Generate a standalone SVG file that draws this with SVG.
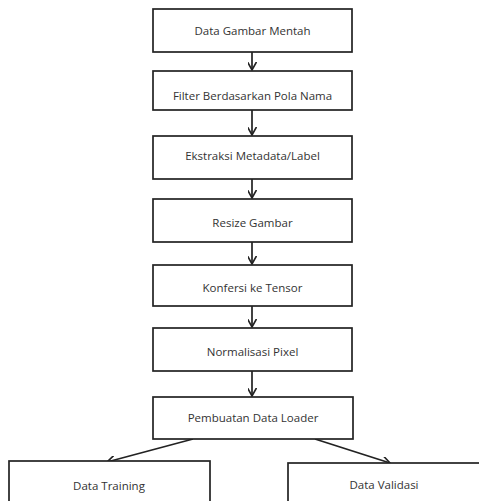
<svg xmlns="http://www.w3.org/2000/svg" width="479" height="501" viewBox="0 0 479 501">
<style>
.box{fill:#ffffff;stroke:#222;stroke-width:1.7}
.t{font-family:"Open Sans","Noto Sans",sans-serif;font-size:11.5px;fill:#333;text-anchor:middle;dominant-baseline:central}
.c{stroke:#222;stroke-width:1.7;fill:none;marker-end:url(#arr)}
</style>
<defs>
<marker id="arr" viewBox="0 0 10 10" refX="9" refY="5" markerWidth="9" markerHeight="9" markerUnits="userSpaceOnUse" orient="auto">
<path d="M0,0 L9,5 L0,10" fill="none" stroke="#222" stroke-width="1.8"/>
</marker>
</defs>
<rect width="479" height="501" fill="#fff"/>
<g id="connectors">
<line class="c" x1="252" y1="52" x2="252" y2="70"/>
<line class="c" x1="252" y1="110" x2="252" y2="135"/>
<line class="c" x1="252" y1="179" x2="252" y2="198"/>
<line class="c" x1="252" y1="242" x2="252" y2="264"/>
<line class="c" x1="252" y1="306" x2="252" y2="327"/>
<line class="c" x1="252" y1="371" x2="252" y2="396"/>
<line class="c" x1="193" y1="439" x2="107" y2="462"/>
<line class="c" x1="315" y1="439" x2="390" y2="463"/>
</g>
<g id="n1"><rect class="box" x="153" y="9" width="199" height="43"/><text class="t" x="252.5" y="30.5">Data Gambar Mentah</text></g>
<g id="n2"><rect class="box" x="153" y="71" width="199" height="39"/><text class="t" x="252.5" y="95">Filter Berdasarkan Pola Nama</text></g>
<g id="n3"><rect class="box" x="153" y="136" width="199" height="43"/><text class="t" x="252.5" y="155">Ekstraksi Metadata/Label</text></g>
<g id="n4"><rect class="box" x="153" y="199" width="199" height="43"/><text class="t" x="252.5" y="222">Resize Gambar</text></g>
<g id="n5"><rect class="box" x="153" y="265" width="199" height="41"/><text class="t" x="252.5" y="287">Konfersi ke Tensor</text></g>
<g id="n6"><rect class="box" x="153" y="328" width="199" height="43"/><text class="t" x="252.5" y="351">Normalisasi Pixel</text></g>
<g id="n7"><rect class="box" x="153" y="397" width="200" height="42"/><text class="t" x="253" y="417">Pembuatan Data Loader</text></g>
<g id="n8"><rect class="box" x="9" y="461" width="201" height="50"/><text class="t" x="109" y="485">Data Training</text></g>
<g id="n9"><rect class="box" x="288" y="463" width="200" height="50"/><text class="t" x="384" y="484">Data Validasi</text></g>
</svg>
